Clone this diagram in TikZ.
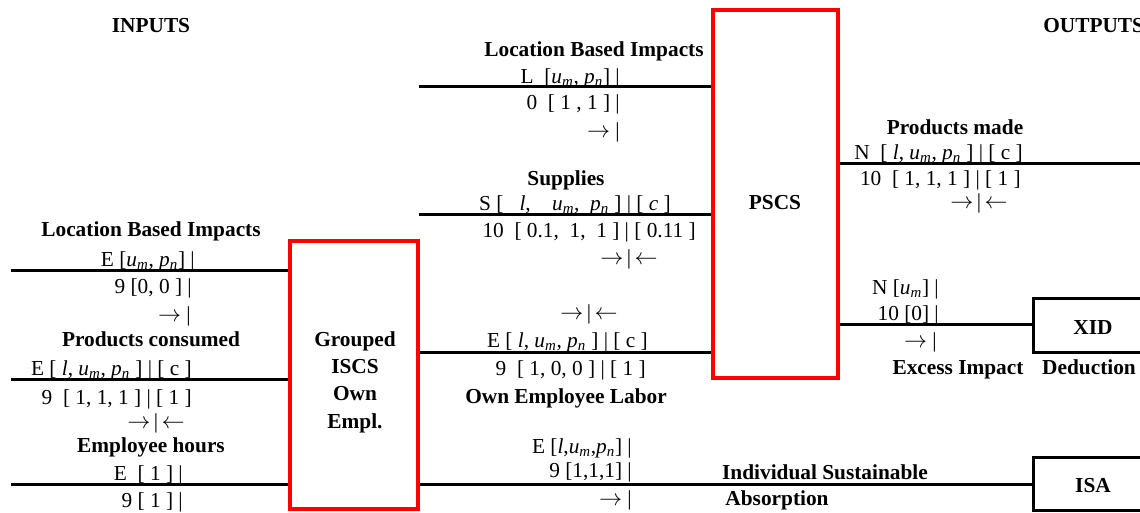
\documentclass[tikz,border=0pt]{standalone}
\usepackage{fontspec}
\setmainfont{Liberation Serif}
\usetikzlibrary{fit}
\newcommand{\ix}[2]{\textit{#1}\textsubscript{\textit{#2}}}
\newcommand{\ra}{$\rightarrow$}
\newcommand{\la}{$\leftarrow$}
\tikzset{
  txt/.style={font=\fontsize{16}{20.5}\selectfont, inner sep=0pt},
  ttl/.style={txt, font=\fontsize{16}{20.5}\selectfont\bfseries, anchor=base},
  frm/.style={txt, anchor=base east},
  redbox/.style={draw=red, line width=3pt, inner sep=0pt},
  blkbox/.style={draw=black, line width=2.25pt, inner sep=0pt},
  flow/.style={draw=black, line width=2.25pt, line cap=butt},
}
\begin{document}
\begin{tikzpicture}[x=0.75pt,y=-0.75pt]
\useasboundingbox (0,0) rectangle (1140,512);

% process boxes
\node[redbox, fit={(290,241) (418,509)}] (grp) {};
\node[redbox, fit={(713,9.5) (838,378)}] (pscs) {};
\node[blkbox, fit={(1033,298) (1160,352)}] (xid) {};
\node[blkbox, fit={(1033,457) (1160,510)}] (isa) {};

% box captions (base anchor = baseline of the last line)
\node[ttl, align=center] (grptxt) at (355,428) {Grouped\\ISCS\\Own\\Empl.};
\node[ttl] (pscstxt) at (775,209) {PSCS};
\node[ttl] (xidtxt) at (1093,334) {XID};
\node[ttl] (isatxt) at (1093,492) {ISA};

% headings
\node[ttl] (inputs) at (151,32) {INPUTS};
\node[ttl, anchor=base west] (outputs) at (1043,32) {OUTPUTS};

% free ends of the flows
\coordinate (a1) at (11,270);
\coordinate (a2) at (11,379);
\coordinate (a3) at (11,484);
\coordinate (b1) at (419,86);
\coordinate (b2) at (419,214);
\coordinate (c1) at (1160,163);

% flows
\draw[flow] (a1) -- (a1 -| grp.west);
\draw[flow] (a2) -- (a2 -| grp.west);
\draw[flow] (a3) -- (a3 -| grp.west);
\draw[flow] (b1) -- (b1 -| pscs.west);
\draw[flow] (b2) -- (b2 -| pscs.west);
\draw[flow] (grp.east |- 0,352) -- (pscs.west |- 0,352);
\draw[flow] (grp.east |- 0,484) -- (isa.west |- 0,484);
\draw[flow] (pscs.east |- c1) -- (c1);
\draw[flow] (pscs.east |- 0,324) -- (xid.west |- 0,324);

% left inputs
\node[ttl] (lbi1) at (151,236) {Location Based Impacts};
\node[frm] (a1t) at (195,266) {E [\ix{u}{m}, \ix{p}{n}] |};
\node[frm] (a1b) at (192,293) {9 [0, 0 ] |};
\node[frm] (a1r) at (191,321) {\ra\ |};
\node[ttl] (pc) at (151,346) {Products consumed};
\node[frm] (a2t) at (192,375) {E [ \textit{l}, \ix{u}{m}, \ix{p}{n} ] | [ c ]};
\node[frm] (a2b) at (192,404) {9~ [ 1, 1, 1 ] | [ 1 ]};
\node[frm] (a2r) at (185,428) {\ra\,|\,\la};
\node[ttl] (eh) at (151,452) {Employee hours};
\node[frm] (a3t) at (183,480) {E~ [ 1 ] |};
\node[frm] (a3b) at (183,507) {9 [ 1 ] |};

% middle flows
\node[ttl] (lbi2) at (594,56) {Location Based Impacts};
\node[frm] (b1t) at (620,83) {L~ [\ix{u}{m}, \ix{p}{n}] |};
\node[frm] (b1b) at (620,109) {0~ [ 1 , 1 ] |};
\node[frm] (b1r) at (620,137) {\ra\ |};
\node[ttl] (sup) at (566,185) {Supplies};
\node[frm] (b2t) at (671,210) {S [~~ \textit{l}, ~~~\ix{u}{m}, ~\ix{p}{n} ] | [ \textit{c} ]};
\node[frm] (b2b) at (696,237) {10~ [ 0.1, ~1, ~1 ] | [ 0.11 ]};
\node[frm] (b2r) at (658,264) {\ra\,|\,\la};
\node[frm] (e1r) at (618,319) {\ra\,|\,\la};
\node[frm] (e1t) at (648,347) {E [ \textit{l}, \ix{u}{m}, \ix{p}{n} ] | [ c ]};
\node[frm] (e1b) at (646,375) {9~ [ 1, 0, 0 ] | [ 1 ]};
\node[ttl] (oel) at (566,403) {Own Employee Labor};
\node[frm] (e2t) at (632,453) {E [\textit{l},\ix{u}{m},\ix{p}{n}] |};
\node[frm] (e2b) at (632,477) {9 [1,1,1] |};
\node[frm] (e2r) at (632,505) {\ra\ |};

% outputs
\node[ttl] (pm) at (955,134) {Products made};
\node[frm] (c1t) at (1023,159) {N~ [ \textit{l}, \ix{u}{m}, \ix{p}{n} ] | [ c ]};
\node[frm] (c1b) at (1021,185) {10~ [ 1, 1, 1 ] | [ 1 ]};
\node[frm] (c1r) at (1008,208) {\ra\,|\,\la};
\node[frm] (d1t) at (939,294) {N [\ix{u}{m}] |};
\node[frm] (d1b) at (939,320) {10 [0] |};
\node[frm] (d1r) at (937,347) {\ra\ |};
\node[ttl] (ei) at (958,374) {Excess Impact};
\node[ttl] (ded) at (1089,374) {Deduction};
\node[ttl] (isl1) at (825,479) {Individual Sustainable};
\node[ttl] (isl2) at (777,505) {Absorption};
\end{tikzpicture}
\end{document}
